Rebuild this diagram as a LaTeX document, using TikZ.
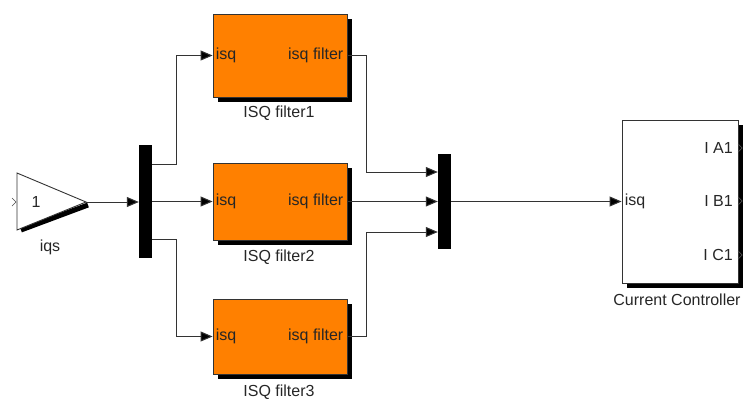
\documentclass[tikz,border=0pt]{standalone}
\usepackage{fontspec}
\setmainfont{Liberation Sans}
\usetikzlibrary{arrows.meta}
\definecolor{filtorange}{HTML}{FF8000}
\definecolor{wiregray}{HTML}{333333}
\begin{document}
\begin{tikzpicture}[x=1pt,y=-1pt,
  font=\fontsize{16}{19}\selectfont,
  wire/.style={draw=wiregray, line width=1pt},
  arr/.style={wire, -{Triangle[length=12pt,width=10pt,fill=black]}},
  filtbox/.style={rectangle, draw=wiregray, fill=filtorange, line width=0.9pt, minimum width=134pt, inner sep=0pt},
  shadowbox/.style={fill=black},
  bar/.style={rectangle, fill=black, minimum width=13pt, inner sep=0pt},
  portl/.style={anchor=west, inner sep=0pt, text=black!85},
  portr/.style={anchor=east, inner sep=0pt, text=black!85},
  chev/.style={draw=black!70, line width=0.7pt},
  lbl/.style={inner sep=0pt, text=black!85}]
\useasboundingbox (0,0) rectangle (746,399);

% Gain block
\coordinate (gout) at (86,202);
\draw[line width=5pt, black] (21,230) -- (88,205);
\draw[line width=0.9pt, draw=wiregray, fill=white] (17,173) -- (17,230) -- (gout) -- cycle;
\node[lbl] (gval) at (36,202) {1};
\node[lbl] (glbl) at (50,247) {iqs};
\draw[chev] (12,198) -- (16,202) -- (12,206);

% Demux and mux bars
\node[bar, minimum height=113pt] (demux) at (145.5,201.5) {};
\node[bar, minimum height=95pt] (mux) at (444.5,201.5) {};

% Filters
\fill[shadowbox] (218,19) rectangle (352,102);
\node[filtbox, minimum height=83pt] (f1) at (280,55.5) {};
\fill[shadowbox] (218,168) rectangle (352,245);
\node[filtbox, minimum height=77pt] (f2) at (280,201.5) {};
\fill[shadowbox] (218,304) rectangle (352,379);
\node[filtbox, minimum height=75pt] (f3) at (280,336.5) {};

\foreach \f in {f1,f2,f3}{
  \node[portl] at ([xshift=3pt]\f.west) {isq};
  \node[portr] at ([xshift=-4pt]\f.east) {isq filter};
}
\node[lbl] (f1lbl) at (279,113) {ISQ filter1};
\node[lbl] (f2lbl) at (279,257) {ISQ filter2};
\node[lbl] (f3lbl) at (279,392) {ISQ filter3};

% Current controller
\fill[shadowbox] (627,125) rectangle (743,288);
\node[rectangle, draw=wiregray, fill=white, line width=0.9pt, minimum width=116pt, minimum height=163pt, inner sep=0pt] (cc) at (680,201.5) {};
\node[portl] at ([xshift=3pt]cc.west) {isq};
\node[portr] (ia) at (733,148) {I A1};
\node[portr] (ib) at (733,201) {I B1};
\node[portr] (ic) at (733,255) {I C1};
\foreach \yy in {148,201,255}{
  \draw[chev] (738,\yy-4) -- (742,\yy) -- (738,\yy+4);
}
\node[lbl] (cclbl) at (677,300) {Current Controller};

% Connectors
\draw[arr] (gout) -- (gout -| demux.west);
\draw[arr] (demux.east |- {(0,164)}) -- (176,164) |- (f1.west);
\draw[arr] (demux.east) -- (f2.west);
\draw[arr] (demux.east |- {(0,239)}) -- (176,239) |- (f3.west);
\draw[arr] (f1.east) -- (366,55.5) |- (mux.west |- {(0,172)});
\draw[arr] (f2.east) -- (f2.east -| mux.west);
\draw[arr] (f3.east) -- (366,336.5) |- (mux.west |- {(0,232)});
\draw[arr] (mux.east) -- (mux.east -| cc.west);
\end{tikzpicture}
\end{document}
